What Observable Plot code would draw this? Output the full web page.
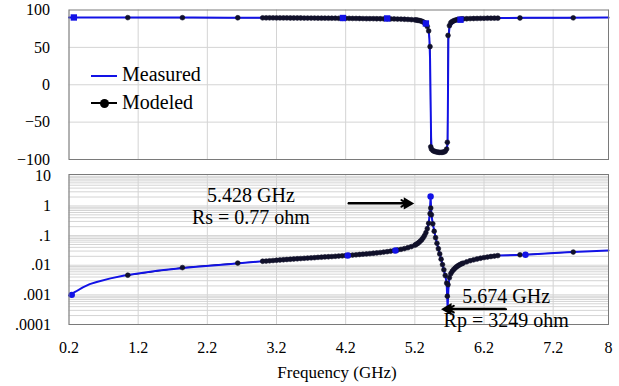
<!DOCTYPE html>
<html>
<head>
<meta charset="utf-8">
<script src="https://cdn.jsdelivr.net/npm/d3@7"></script>
<script src="https://cdn.jsdelivr.net/npm/@observablehq/plot@0.6"></script>
<style>
  html, body { margin: 0; padding: 0; background: #fff; }
  #chart { position: relative; width: 619px; height: 386px; font-family: "Liberation Serif", "Times New Roman", serif; color: #000; overflow: hidden; }
  #chart svg { display: block; font-family: "Liberation Serif", "Times New Roman", serif !important; }
  #chart svg text, #chart div { font-family: "Liberation Serif", "Times New Roman", serif !important; }
  .lg-line { position: absolute; height: 2px; }
  .lg-dot { position: absolute; width: 9px; height: 9px; border-radius: 50%; background: #000; }
  .lg-text { position: absolute; font-size: 20px; line-height: 20px; white-space: nowrap; }
  .xtitle { position: absolute; font-size: 17px; line-height: 17px; white-space: nowrap; transform: translateX(-50%); }
</style>
</head>
<body>
<div id="chart"></div>
<script>
// ---------- axes / ticks ----------
const xTicks = [0.2, 1.2, 2.2, 3.2, 4.2, 5.2, 6.2, 7.2, 8];
const phaseTicks = [-100, -50, 0, 50, 100];
const phaseGrid = [-50, 0, 50];
const magTicks = [0.0001, 0.001, 0.01, 0.1, 1, 10];
const magTickLabels = [".0001", ".001", ".01", ".1", "1", "10"];
const xTitle = "Frequency (GHz)";
const seriesNames = ["Measured", "Modeled"];

// ---------- Measured (continuous line) ----------
const measFreq = [0.2, 0.25, 0.3, 0.4, 0.5, 0.6, 0.8, 1.0, 1.2, 1.5, 2.0, 2.5, 3.0, 3.5, 4.0, 4.5, 4.8, 5.0, 5.1, 5.2, 5.25, 5.3, 5.34, 5.37, 5.4, 5.41, 5.42, 5.428, 5.435, 5.44, 5.46, 5.5, 5.55, 5.6, 5.64, 5.66, 5.674, 5.685, 5.7, 5.73, 5.79, 5.85, 5.91, 6.0, 6.15, 6.4, 6.8, 7.4, 8.0];
const measPhase = [90, 90, 90, 90, 90, 90, 90, 90, 90, 90, 89.8, 89.6, 89.5, 89.4, 89.3, 89, 88.7, 88.3, 88, 87.5, 87, 86, 84.5, 81.5, 73, 62, 35, -20, -70, -82, -87, -89, -90.5, -90.2, -88.5, -85, -80, 60, 76, 81, 85, 87, 88, 88.5, 89, 89.3, 89.5, 89.7, 89.8];
const measMag = [0.00095, 0.00112, 0.0013, 0.0018, 0.0023, 0.0027, 0.0036, 0.0045, 0.0053, 0.0066, 0.0087, 0.0108, 0.0136, 0.0165, 0.0196, 0.024, 0.0287, 0.0343, 0.039, 0.0475, 0.056, 0.073, 0.1, 0.15, 0.26, 0.4, 0.9, 2.1, 0.9, 0.5, 0.25, 0.085, 0.03, 0.0105, 0.0045, 0.0025, 0.00035, 0.0015, 0.004, 0.0058, 0.0077, 0.01, 0.0125, 0.0145, 0.0175, 0.0212, 0.0225, 0.0275, 0.0316];

// Measured markers
const phaseMarkFreq = [0.27, 4.16, 4.8, 5.36, 5.86];
const phaseMarkVal = [90, 89.3, 88.7, 82, 87];
const magMarkFreq = [0.24, 4.23, 4.92, 5.428, 6.8];
const magMarkVal = [0.001, 0.0214, 0.0315, 2.1, 0.0225];

// ---------- Modeled (dots) ----------
const modFreq = [1.05, 1.84, 2.64,
  3.00, 3.05, 3.10, 3.15, 3.20, 3.25, 3.30, 3.35, 3.40, 3.45, 3.50, 3.55, 3.60, 3.65, 3.70, 3.75, 3.80, 3.85, 3.90, 3.95, 4.00, 4.05, 4.10, 4.15, 4.20, 4.25, 4.30, 4.35, 4.40, 4.45, 4.50, 4.55, 4.60, 4.65, 4.70, 4.75, 4.80, 4.85, 4.90, 4.95, 5.00, 5.05, 5.10, 5.15, 5.20,
  5.22, 5.24, 5.26, 5.28, 5.30, 5.32, 5.34, 5.36, 5.38, 5.40, 5.42, 5.43, 5.44, 5.46, 5.48, 5.50, 5.52, 5.54, 5.56, 5.58, 5.60, 5.62, 5.64, 5.66, 5.67, 5.68, 5.70, 5.72, 5.74, 5.76, 5.78, 5.80, 5.82, 5.84, 5.86, 5.88,
  5.90, 5.95, 6.00, 6.05, 6.10, 6.15, 6.20, 6.25, 6.30, 6.35, 6.40,
  6.72, 7.49];
const modPhase = [89.8, 89.7, 89.6,
  89.5, 89.5, 89.5, 89.5, 89.4, 89.4, 89.4, 89.4, 89.3, 89.3, 89.3, 89.3, 89.2, 89.2, 89.2, 89.2, 89.1, 89.1, 89.1, 89.0, 89.0, 89.0, 88.9, 88.9, 88.8, 88.8, 88.7, 88.7, 88.6, 88.5, 88.4,
  88.4, 88.4, 88.3, 88.3, 88.2, 88.2, 88.1, 88.0, 87.9, 87.8, 87.6, 87.4, 87.1, 86.8,
  86.6, 86.3, 86.0, 85.5, 85, 84, 83, 81, 78, 72, 51, -83, -86, -88, -89, -89.5, -90, -90.3, -90.5, -90.5, -90.3, -90, -89, -86, -77, 66, 79, 83, 84.5, 85.5, 86.2, 86.8, 87.2, 87.5, 87.8, 88,
  88.1, 88.3, 88.5, 88.6, 88.7, 88.8, 88.9, 89.0, 89.0, 89.1, 89.1,
  89.3, 89.5];
const modMag = [0.0046, 0.0083, 0.0118,
  0.0136, 0.0138, 0.0141, 0.0144, 0.0147, 0.0150, 0.0153, 0.0156, 0.0159, 0.0162, 0.0165, 0.0168, 0.0171, 0.0174, 0.0177, 0.0180, 0.0184, 0.0187, 0.0190, 0.0193, 0.0196, 0.0200, 0.0204, 0.0208, 0.0212, 0.0216, 0.0220, 0.0225, 0.0230, 0.0235, 0.0240, 0.0246, 0.0253, 0.0260, 0.0268, 0.0277, 0.0287, 0.0298, 0.0311, 0.0326, 0.0343, 0.0364, 0.0390, 0.0425, 0.0475,
  0.0505, 0.054, 0.059, 0.065, 0.073, 0.084, 0.10, 0.125, 0.17, 0.26, 0.55, 0.85, 0.5, 0.25, 0.14, 0.085, 0.055, 0.036, 0.024, 0.016, 0.0105, 0.007, 0.0045, 0.0025, 0.0009, 0.0022, 0.0038, 0.0052, 0.0062, 0.0071, 0.0079, 0.0087, 0.0094, 0.0101, 0.0107, 0.0113,
  0.0118, 0.013, 0.0142, 0.0152, 0.0162, 0.0172, 0.0181, 0.0189, 0.0197, 0.0204, 0.0211,
  0.0225, 0.0278];

// ---------- Annotations (in data units) ----------
const noteText = ["5.428 GHz", "Rs = 0.77 ohm", "5.674 GHz", "Rp = 3249 ohm"];
const noteFreq = [2.83, 2.83, 6.52, 6.52];
const noteMag = [2.3, 0.42, 0.00088, 0.000132];
const arrowFrom = [4.24, 6.52];
const arrowTo = [5.09, 5.68];
const arrowMag = [1.22, 0.00033];
const arrowDir = [90, -90];

// ---------- build tables ----------
const measured = measFreq.map((f, i) => ({f, phase: measPhase[i], mag: measMag[i]}));
const modeled = modFreq.map((f, i) => ({f, phase: modPhase[i], mag: modMag[i]}));
const phaseMarks = phaseMarkFreq.map((f, i) => ({f, v: phaseMarkVal[i]}));
const magMarks = magMarkFreq.map((f, i) => ({f, v: magMarkVal[i]}));
const notes = noteText.map((t, i) => ({t, f: noteFreq[i], v: noteMag[i]}));
const arrows = arrowFrom.map((f, i) => ({from: f, to: arrowTo[i], y: arrowMag[i], rot: arrowDir[i]}));
const magGrid = magTicks.flatMap(t => [1,2,3,4,5,6,7,8,9].map(k => k * t)).filter(v => v <= 11);

const BLUE = "#1212e6";
const DOT = "#10102a";
const GRID = "#d4d4d4";
const FRAME = "#7a7a7a";
const FONT = "Liberation Serif";
const W = 619, ML = 68.5, MR = 11;

const topPlot = Plot.plot({
  width: W, height: 165,
  marginLeft: ML, marginRight: MR, marginTop: 9.5, marginBottom: 6,
  style: {fontFamily: FONT, fontSize: "16px", color: "#000", background: "transparent", overflow: "visible"},
  x: {domain: [0.2, 8], axis: null},
  y: {domain: [-100, 100], ticks: phaseTicks, tickSize: 0, tickPadding: 19, label: null},
  marks: [
    Plot.gridX(xTicks, {stroke: GRID, strokeOpacity: 1}),
    Plot.gridY(phaseGrid, {stroke: GRID, strokeOpacity: 1}),
    Plot.line(modeled, {x: "f", y: "phase", stroke: "#000", strokeWidth: 1}),
    Plot.line(measured, {x: "f", y: "phase", stroke: BLUE, strokeWidth: 2}),
    Plot.dot(modeled, {x: "f", y: "phase", r: 2.4, fill: DOT, stroke: DOT, strokeWidth: 0.6}),
    Plot.dot(phaseMarks, {x: "f", y: "v", symbol: "square", r: 3.6, fill: BLUE}),
    Plot.frame({stroke: FRAME})
  ]
});

const botPlot = Plot.plot({
  width: W, height: 221,
  marginLeft: ML, marginRight: MR, marginTop: 9, marginBottom: 62,
  style: {fontFamily: FONT, fontSize: "16px", color: "#000", background: "transparent", overflow: "visible"},
  x: {domain: [0.2, 8], ticks: xTicks, tickSize: 0, tickPadding: 17, tickFormat: d => d === 8 ? "8" : d.toFixed(1), label: null},
  y: {type: "log", domain: [0.0001, 11.5], ticks: magTicks, tickSize: 0, tickPadding: 18,
      tickFormat: d => magTickLabels[magTicks.indexOf(d)], label: null},
  marks: [
    Plot.ruleY(magGrid, {stroke: GRID, strokeWidth: 1}),
    Plot.gridX(xTicks, {stroke: GRID, strokeOpacity: 1}),
    Plot.line(modeled, {x: "f", y: "mag", stroke: "#000", strokeWidth: 1}),
    Plot.line(measured, {x: "f", y: "mag", stroke: BLUE, strokeWidth: 2}),
    Plot.dot(modeled, {x: "f", y: "mag", r: 2.4, fill: DOT, stroke: DOT, strokeWidth: 0.6}),
    Plot.dot(magMarks, {x: "f", y: "v", r: 3.2, fill: BLUE}),
    Plot.frame({stroke: FRAME}),
    Plot.text(notes, {x: "f", y: "v", text: "t", fontSize: 20, fill: "#000", textAnchor: "middle", lineAnchor: "middle", fontFamily: FONT}),
    Plot.arrow(arrows, {x1: "from", x2: "to", y1: "y", y2: "y", stroke: "#000", strokeWidth: 2, headLength: 5}),
    Plot.dot(arrows, {x: "to", y: "y", symbol: "triangle", rotate: "rot", r: 4.5, fill: "#000"})
  ]
});

// Arrow shafts also drawn as plain SVG lines positioned through the plot's own scales
(function addShafts() {
  const sx = botPlot.scale("x"), sy = botPlot.scale("y");
  const ns = "http://www.w3.org/2000/svg";
  const g = document.createElementNS(ns, "g");
  arrows.forEach(a => {
    const ln = document.createElementNS(ns, "line");
    ln.setAttribute("x1", sx.apply(a.from));
    ln.setAttribute("x2", sx.apply(a.to));
    ln.setAttribute("y1", sy.apply(a.y));
    ln.setAttribute("y2", sy.apply(a.y));
    ln.setAttribute("stroke", "#000");
    ln.setAttribute("stroke-width", "2");
    g.appendChild(ln);
  });
  botPlot.appendChild(g);
})();

const chart = document.getElementById("chart");
chart.appendChild(topPlot);
chart.appendChild(botPlot);

// Legend (inside the top panel) and axis title
function add(cls, css, text) {
  const d = document.createElement("div");
  d.className = cls;
  Object.assign(d.style, css);
  d.style.fontFamily = "'Liberation Serif', serif";
  if (text) d.textContent = text;
  chart.appendChild(d);
  return d;
}
add("lg-line", {left: "91px", top: "75px", width: "26px", background: BLUE});
add("lg-text", {left: "122px", top: "64px"}, seriesNames[0]);
add("lg-line", {left: "91px", top: "102px", width: "26px", background: "#000"});
add("lg-dot", {left: "99.5px", top: "98.5px"});
add("lg-text", {left: "122px", top: "92px"}, seriesNames[1]);
add("xtitle", {left: "337px", top: "364px"}, xTitle);
</script>
</body>
</html>
